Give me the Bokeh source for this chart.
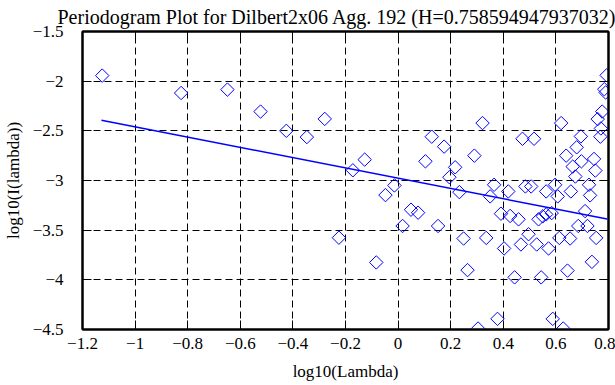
from bokeh.plotting import figure
from bokeh.models import Range1d, FixedTicker, LinearAxis, Title
from bokeh.embed import file_html
from bokeh.resources import INLINE

title_text = "Periodogram Plot for Dilbert2x06 Agg. 192 (H=0.758594947937032)"
x_label = "log10(Lambda)"
y_label = "log10(I(lambda))"

x_ticks = [-1.2, -1.0, -0.8, -0.6, -0.4, -0.2, 0.0, 0.2, 0.4, 0.6, 0.8]
x_tick_labels = ["\u22121.2", "\u22121", "\u22120.8", "\u22120.6", "\u22120.4", "\u22120.2",
                 "0", "0.2", "0.4", "0.6", "0.8"]
y_ticks = [-4.5, -4.0, -3.5, -3.0, -2.5, -2.0, -1.5]
y_tick_labels = ["\u22124.5", "\u22124", "\u22123.5", "\u22123", "\u22122.5", "\u22122", "\u22121.5"]

log_lambda = [
    -1.125, -0.825, -0.649, -0.523, -0.425, -0.347, -0.279, -0.225, -0.172, -0.127,
    -0.083, -0.048, -0.014, 0.017, 0.049, 0.076, 0.104, 0.128, 0.152, 0.175,
    0.195, 0.217, 0.233, 0.249, 0.264, 0.290, 0.304, 0.321, 0.335, 0.350,
    0.365, 0.378, 0.391, 0.403, 0.419, 0.426, 0.443, 0.458, 0.467, 0.473,
    0.484, 0.496, 0.506, 0.517, 0.527, 0.534, 0.544, 0.550, 0.563, 0.563,
    0.572, 0.584, 0.588, 0.597, 0.607, 0.613, 0.620, 0.628, 0.639, 0.644,
    0.654, 0.657, 0.664, 0.674, 0.679, 0.685, 0.695, 0.697, 0.711, 0.720,
    0.726, 0.730, 0.737, 0.745, 0.750, 0.753, 0.759, 0.769, 0.771, 0.776,
    0.784, 0.789, 0.793,
]
log_periodogram = [
    -1.944, -2.119, -2.085, -2.306, -2.500, -2.563, -2.380, -3.576, -2.897, -2.790,
    -3.825, -3.147, -3.050, -3.458, -3.294, -3.324, -2.807, -2.559, -3.458, -2.659,
    -2.967, -2.867, -3.117, -3.584, -3.902, -2.750, -4.490, -2.422, -3.578, -3.160,
    -3.043, -4.393, -3.334, -3.684, -3.110, -3.357, -3.975, -3.391, -3.644, -2.580,
    -3.060, -3.541, -3.060, -2.580, -3.644, -3.391, -3.975, -3.361, -3.341, -3.110,
    -3.684, -3.328, -4.393, -3.043, -3.160, -3.578, -2.422, -4.490, -2.750, -3.907,
    -3.584, -3.110, -2.860, -2.960, -2.666, -3.458, -2.556, -2.807, -3.308, -3.458,
    -3.043, -3.150, -3.819, -2.783, -2.900, -3.578, -2.382, -2.559, -2.476, -2.306,
    -2.081, -2.114, -1.941,
]
fit_x = [-1.128, 0.795]
fit_y = [-2.393, -3.388]

FONT = "Liberation Serif"
FS = "17px"

title = Title(text=title_text, text_font=FONT, text_font_size="20px", text_font_style="normal",
              text_color="black", align="left", offset=-25, standoff=7)

p = figure(width=615, height=385, output_backend="svg", toolbar_location=None,
           x_range=Range1d(-1.2, 0.8), y_range=Range1d(-4.5, -1.5),
           min_border_left=81, min_border_right=7, min_border_top=30, min_border_bottom=56)
p.title = title
p.background_fill_color = "white"
p.border_fill_color = "white"
p.outline_line_color = "black"
p.outline_line_width = 2

xt = FixedTicker(ticks=x_ticks)
yt = FixedTicker(ticks=y_ticks)


def style_axis(ax, ticker, labels):
    ax.ticker = ticker
    ax.axis_line_color = "black"
    ax.axis_line_width = 2
    ax.major_tick_line_color = "black"
    ax.major_tick_line_width = 1
    ax.major_tick_in = 9
    ax.major_tick_out = 0
    ax.minor_tick_line_color = None
    if labels is not None:
        ax.major_label_overrides = {t: l for t, l in zip(ticker.ticks, labels)}
        ax.major_label_text_font = FONT
        ax.major_label_text_font_size = FS
        ax.major_label_text_color = "black"
        ax.axis_label_text_font = FONT
        ax.axis_label_text_font_size = FS
        ax.axis_label_text_font_style = "normal"
        ax.axis_label_text_color = "black"
    else:
        ax.major_label_text_color = None
        ax.major_label_text_font_size = "0px"
        ax.major_label_standoff = 0


xa = p.xaxis[0]
ya = p.yaxis[0]
style_axis(xa, xt, x_tick_labels)
style_axis(ya, yt, y_tick_labels)
xa.axis_label = x_label
ya.axis_label = y_label
xa.major_label_standoff = 8
xa.axis_label_standoff = 10
ya.major_label_standoff = 19
ya.axis_label_standoff = 7

top_ax = LinearAxis()
right_ax = LinearAxis()
style_axis(top_ax, xt, None)
style_axis(right_ax, yt, None)
p.add_layout(top_ax, "above")
p.add_layout(right_ax, "right")

p.xgrid.ticker = xt
p.ygrid.ticker = yt
for g in (p.xgrid[0], p.ygrid[0]):
    g.grid_line_color = "black"
    g.grid_line_width = 1
    g.grid_line_dash = "7 4"

p.scatter(log_lambda, log_periodogram, marker="square", size=9.5, angle=45, angle_units="deg",
          fill_color=None, line_color="#0000ff", line_width=1)
p.line(fit_x, fit_y, line_color="#0000ff", line_width=1.5)

open("out.html", "w").write(file_html(p, INLINE))
